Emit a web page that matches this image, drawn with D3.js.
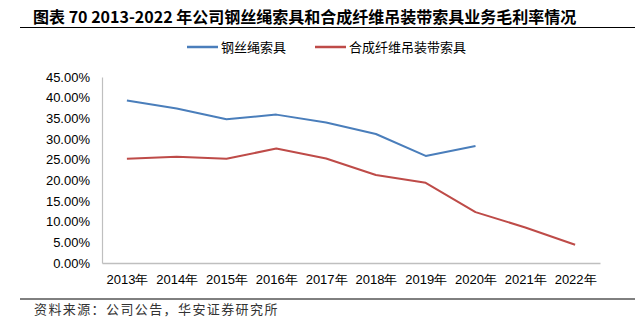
<!DOCTYPE html>
<html>
<head>
<meta charset="utf-8">
<script src="https://cdn.jsdelivr.net/npm/d3@7"></script>
<style>
  body { margin: 0; background: #fff; }
  svg { display: block; }
  .tick text { font-family: "Liberation Sans", Arial, sans-serif; }
</style>
</head>
<body>
<div id="chart"></div>
<script>
'use strict'

const years = ['2013年', '2014年', '2015年', '2016年', '2017年', '2018年', '2019年', '2020年', '2021年', '2022年']
const steelRope = [39.3, 37.4, 34.8, 35.9, 34.0, 31.2, 25.9, 28.3, null, null]
const syntheticSling = [25.2, 25.7, 25.2, 27.7, 25.3, 21.3, 19.4, 12.3, 8.6, 4.4]
const yTicks = [0, 5, 10, 15, 20, 25, 30, 35, 40, 45]

const seriesNames = ['钢丝绳索具', '合成纤维吊装带索具']
const seriesColors = ['#4a7ebb', '#be4b48']

const width = 635
const height = 325
const margin = { top: 77, right: 35, bottom: 62, left: 102 }

const svg = d3.select('#chart')
  .append('svg')
  .attr('width', width)
  .attr('height', height)

// title and rule under it
svg.append('text')
  .attr('x', 33)
  .attr('y', 23)
  .attr('font-family', '"Noto Sans CJK SC", sans-serif')
  .attr('font-weight', 'bold')
  .attr('font-size', 16)
  .attr('fill', '#000')
  .text('图表 70 2013-2022 年公司钢丝绳索具和合成纤维吊装带索具业务毛利率情况')

svg.append('line')
  .attr('x1', 20).attr('x2', 635)
  .attr('y1', 27.5).attr('y2', 27.5)
  .attr('stroke', '#000')
  .attr('stroke-width', 1)

const x = d3.scalePoint()
  .domain(years)
  .range([margin.left, width - margin.right])
  .padding(0.5)

const y = d3.scaleLinear()
  .domain([0, 45])
  .range([height - margin.bottom, margin.top])

const yAxis = svg.append('g')
  .attr('transform', `translate(${margin.left}, 0)`)
  .call(d3.axisLeft(y).tickValues(yTicks).tickSize(0).tickPadding(12).tickFormat((d) => d.toFixed(2) + '%'))
yAxis.select('.domain').attr('stroke', '#bfbfbf').attr('stroke-width', 1.2)
yAxis.selectAll('text').attr('font-size', 13).attr('fill', '#000')

const xAxis = svg.append('g')
  .attr('transform', `translate(0, ${height - margin.bottom})`)
  .call(d3.axisBottom(x).tickSize(0).tickPadding(12).tickSizeOuter(0))
xAxis.select('.domain').attr('stroke', '#bfbfbf').attr('stroke-width', 1.5)
xAxis.selectAll('text').attr('font-size', 13).attr('fill', '#000')

const line = d3.line()
  .defined((d) => d != null)
  .x((d, i) => x(years[i]))
  .y((d) => y(d))

;[steelRope, syntheticSling].forEach((values, i) => {
  svg.append('path')
    .datum(values)
    .attr('fill', 'none')
    .attr('stroke', seriesColors[i])
    .attr('stroke-width', 2)
    .attr('stroke-linejoin', 'round')
    .attr('d', line)
})

// legend
const legendX = [187, 315]
seriesNames.forEach((name, i) => {
  const g = svg.append('g').attr('transform', `translate(${legendX[i]}, 47)`)
  g.append('line')
    .attr('x1', 0).attr('x2', 31)
    .attr('stroke', seriesColors[i])
    .attr('stroke-width', 2.5)
  g.append('text')
    .attr('x', 34)
    .attr('dy', '0.35em')
    .attr('font-family', '"Noto Sans CJK SC", sans-serif')
    .attr('font-size', 13)
    .attr('fill', '#000')
    .text(name)
})

// source note
svg.append('line')
  .attr('x1', 20).attr('x2', 635)
  .attr('y1', 299).attr('y2', 299)
  .attr('stroke', '#000')
  .attr('stroke-width', 1)

svg.append('text')
  .attr('x', 34)
  .attr('y', 309)
  .attr('dy', '0.35em')
  .attr('font-family', '"Noto Sans CJK SC", sans-serif')
  .attr('font-size', 13)
  .attr('letter-spacing', 1.4)
  .attr('fill', '#333')
  .text('资料来源：公司公告，华安证券研究所')
</script>
</body>
</html>
